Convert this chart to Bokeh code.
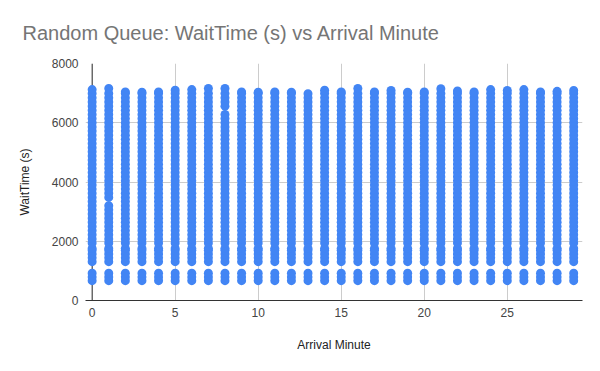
from bokeh.plotting import figure
from bokeh.models import Range1d, FixedTicker, Span, ColumnDataSource
from bokeh.embed import file_html
from bokeh.resources import INLINE

# ---- data ----
ARRIVAL_MINUTES = [0, 1, 2, 3, 4, 5, 6, 7, 8, 9, 10, 11, 12, 13, 14,
                   15, 16, 17, 18, 19, 20, 21, 22, 23, 24, 25, 26, 27, 28, 29]
# highest wait time observed in each arrival minute (s)
COLUMN_TOP_WAIT = [7120, 7160, 7040, 7030, 7040, 7100, 7120, 7160, 7160, 7040,
                   7030, 7040, 7030, 6980, 7100, 7040, 7160, 7040, 7090, 7030,
                   7040, 7150, 7070, 7040, 7120, 7090, 7120, 7040, 7060, 7090]
# short-wait cluster (s)
WAIT_LOW = [670, 790, 920]
# long-wait band (s), sampled wait times present in every minute
WAIT_HIGH = [1310, 1440, 1570, 1700, 1760, 1940, 2080, 2220, 2360, 2500,
             2640, 2780, 2920, 3060, 3200, 3340, 3480, 3620, 3760, 3900,
             4040, 4180, 4320, 4460, 4600, 4740, 4880, 5020, 5160, 5300,
             5440, 5580, 5720, 5860, 6000, 6140, 6280, 6420, 6560, 6700,
             6840, 6990]
# wait times missing in a given minute (visible notches)
MISSING_WAIT = {1: 3340, 8: 6420}

X_TICKS = [0, 5, 10, 15, 20, 25]
Y_TICKS = [0, 2000, 4000, 6000, 8000]

xs, ys = [], []
for i, m in enumerate(ARRIVAL_MINUTES):
    top = COLUMN_TOP_WAIT[i]
    for w in WAIT_LOW + WAIT_HIGH:
        if MISSING_WAIT.get(m) == w or w >= top:
            continue
        xs.append(m)
        ys.append(w)
    xs.append(m)
    ys.append(top)

src = ColumnDataSource(dict(x=xs, y=ys))

FONT = "Liberation Sans"

p = figure(width=592, height=363, output_backend="svg", toolbar_location=None,
           x_range=Range1d(-0.4, 29.53), y_range=Range1d(0, 8000),
           min_border_left=85, min_border_right=10, min_border_top=62,
           min_border_bottom=63,
           title="Random Queue: WaitTime (s) vs Arrival Minute")

p.title.text_font = FONT
p.title.text_font_size = "20px"
p.title.text_font_style = "normal"
p.title.text_color = "#757575"
p.title.offset = -63
p.title.standoff = 39

p.outline_line_color = None
p.background_fill_color = "white"
p.border_fill_color = "white"

# grids
p.xgrid.ticker = FixedTicker(ticks=X_TICKS)
p.ygrid.ticker = FixedTicker(ticks=Y_TICKS)
p.grid.grid_line_color = "#cccccc"
p.grid.grid_line_width = 1

# axes
p.xaxis.ticker = FixedTicker(ticks=X_TICKS)
p.yaxis.ticker = FixedTicker(ticks=Y_TICKS)
for ax in (p.xaxis[0], p.yaxis[0]):
    ax.major_tick_line_color = None
    ax.minor_tick_line_color = None
    ax.major_tick_out = 0
    ax.major_tick_in = 0
    ax.major_label_text_font = FONT
    ax.major_label_text_font_size = "12px"
    ax.major_label_text_color = "#444444"
    ax.axis_label_text_font = FONT
    ax.axis_label_text_font_size = "12px"
    ax.axis_label_text_font_style = "normal"
    ax.axis_label_text_color = "#222222"

p.xaxis.axis_label = "Arrival Minute"
p.yaxis.axis_label = "WaitTime (s)"
p.xaxis.axis_line_color = "#333333"
p.yaxis.axis_line_color = None
p.xaxis.major_label_standoff = 7
p.yaxis.major_label_standoff = 7
p.xaxis.axis_label_standoff = 18
p.yaxis.axis_label_standoff = 17

# dark baseline at x = 0
p.add_layout(Span(location=0, dimension="height", line_color="#333333",
                  line_width=1, level="underlay"))

p.scatter("x", "y", source=src, size=9, fill_color="#4285F4",
          line_color=None)

open("out.html", "w").write(file_html(p, INLINE))
